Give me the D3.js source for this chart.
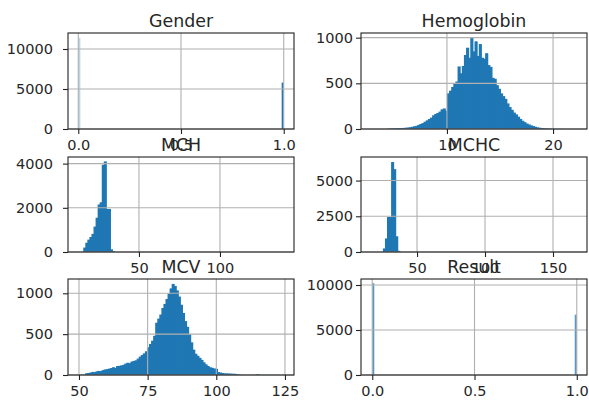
<!DOCTYPE html>
<html><head><meta charset="utf-8">
<script src="https://cdn.jsdelivr.net/npm/d3@7"></script>
<style>body{margin:0;background:#fff}svg{display:block}</style>
</head><body><svg id="c" width="589" height="405"></svg>
<script>
// ---------- data ----------
const panelTitles = ["Gender", "Hemoglobin", "MCH", "MCHC", "MCV", "Result"];

const genderBinStarts = [0, 0.99];
const genderBinWidth = 0.01;
const genderCounts = [11400, 5800];

const hgbBinStart = 4.4, hgbBinWidth = 0.2;
const hgbCounts = [5,6,7,8,9,10,11,12,14,16,
  20,24,30,35,45,55,65,80,95,110,
  125,150,165,175,190,215,225,200,390,420,
  460,500,520,685,610,690,810,890,780,1000,
  850,960,800,930,780,770,830,700,680,560,
  550,480,440,390,360,330,280,240,210,180,
  160,135,110,90,75,60,50,40,32,25,
  18,14,10,8,6,5,3,2,2,1,1,1,1];

const mchBinStart = 15.6, mchBinWidth = 1.27;
const mchCounts = [200,420,560,680,820,1150,1550,2150,2250,3950,4100,1950,1950,120,40];

const mchcBinStart = 24.9, mchcBinWidth = 1.51;
const mchcCounts = [250,950,2450,2450,6300,5800,1100,80];

const mcvBinStart = 50, mcvBinWidth = 0.75;
const mcvCounts = [2,3,5,22,25,30,38,35,45,50,
  48,60,68,72,78,85,95,88,110,112,
  118,125,140,150,145,165,172,180,200,225,
  245,265,290,340,380,420,480,640,690,740,
  820,870,930,995,1060,1115,1090,1035,960,860,
  760,660,590,500,400,310,260,235,210,185,
  155,130,110,95,88,80,75,35,30,25,
  20,20,18,17,15,15,12,3,2,1,
  1,0,1,0,2,1,10,2,0,1,
  0,0,1,0,0,0,0,0,0,2];

const resultBinStarts = [0, 0.99];
const resultBinWidth = 0.01;
const resultCounts = [10200, 6700];

const genderXTicks = [0, 0.5, 1], genderYTicks = [0, 5000, 10000];
const hgbXTicks = [10, 20], hgbYTicks = [0, 500, 1000];
const mchXTicks = [50, 100], mchYTicks = [0, 2000, 4000];
const mchcXTicks = [50, 100, 150], mchcYTicks = [0, 2500, 5000];
const mcvXTicks = [50, 75, 100, 125], mcvYTicks = [0, 500, 1000];
const resultXTicks = [0, 0.5, 1], resultYTicks = [0, 5000, 10000];

// ---------- build bins ----------
function regularBins(start, width, counts) {
  return counts.map((c, i) => ({x0: start + i * width, x1: start + (i + 1) * width, n: c}));
}
function listedBins(starts, width, counts) {
  return counts.map((c, i) => ({x0: starts[i], x1: starts[i] + width, n: c}));
}

const L = {x: 68, w: 226}, R = {x: 361, w: 226};
const rows = [{y: 33, h: 96}, {y: 157, h: 95}, {y: 279, h: 96}];

const panels = [
  {title: panelTitles[0], col: L, row: rows[0], bins: listedBins(genderBinStarts, genderBinWidth, genderCounts),
   xd: [-0.05, 1.05], yd: [0, 12000], xt: genderXTicks, yt: genderYTicks, xf: d3.format(".1f"), fade: [0.3, 1]},
  {title: panelTitles[1], col: R, row: rows[0], bins: regularBins(hgbBinStart, hgbBinWidth, hgbCounts),
   xd: [1.9, 23.2], yd: [0, 1051], xt: hgbXTicks, yt: hgbYTicks, xf: d3.format("d"), seam: true},
  {title: panelTitles[2], col: L, row: rows[1], bins: regularBins(mchBinStart, mchBinWidth, mchCounts),
   xd: [6.2, 145.7], yd: [0, 4300], xt: mchXTicks, yt: mchYTicks, xf: d3.format("d"), seam: true},
  {title: panelTitles[3], col: R, row: rows[1], bins: regularBins(mchcBinStart, mchcBinWidth, mchcCounts),
   xd: [8.8, 175], yd: [0, 6650], xt: mchcXTicks, yt: mchcYTicks, xf: d3.format("d"), seam: true},
  {title: panelTitles[4], col: L, row: rows[2], bins: regularBins(mcvBinStart, mcvBinWidth, mcvCounts),
   xd: [46, 128.3], yd: [0, 1175], xt: mcvXTicks, yt: mcvYTicks, xf: d3.format("d"), seam: true},
  {title: panelTitles[5], col: R, row: rows[2], bins: listedBins(resultBinStarts, resultBinWidth, resultCounts),
   xd: [-0.055, 1.05], yd: [0, 10667], xt: resultXTicks, yt: resultYTicks, xf: d3.format(".1f"), fade: [0.75, 0.75]},
];

const svg = d3.select("#c");
const FONT = "DejaVu Sans, sans-serif";
const BLUE = "#1f77b4", GRID = "#b0b0b0", INK = "#262626";

panels.forEach((p, pi) => {
  const left = p.col.x, top = p.row.y, W = p.col.w, H = p.row.h;
  const x = d3.scaleLinear().domain(p.xd).range([left, left + W]);
  const y = d3.scaleLinear().domain(p.yd).range([top + H, top]);
  const g = svg.append("g");

  // bars (each bar overlaps its neighbour by 1px so no anti-alias seams show)
  g.selectAll("rect.bar").data(p.bins.filter(b => b.n > 0)).join("rect")
    .attr("x", d => x(d.x0))
    .attr("width", d => Math.max(0.8, x(d.x1) - x(d.x0) + (p.seam ? 1 : 0)))
    .attr("y", d => y(d.n)).attr("height", d => y(0) - y(d.n))
    .attr("fill", BLUE)
    .attr("opacity", (d, i) => p.fade ? p.fade[i] : 1);

  // grid (drawn above bars, like matplotlib default)
  g.selectAll("line.gx").data(p.xt).join("line")
    .attr("x1", d => x(d)).attr("x2", d => x(d)).attr("y1", top).attr("y2", top + H)
    .attr("stroke", GRID).attr("stroke-width", 1.1);
  g.selectAll("line.gy").data(p.yt).join("line")
    .attr("x1", left).attr("x2", left + W).attr("y1", d => y(d)).attr("y2", d => y(d))
    .attr("stroke", GRID).attr("stroke-width", 1.1);

  // axes
  const xa = g.append("g").attr("transform", `translate(0,${top + H})`)
    .call(d3.axisBottom(x).tickValues(p.xt).tickFormat(p.xf).tickSize(5).tickPadding(6).tickSizeOuter(0));
  const ya = g.append("g").attr("transform", `translate(${left},0)`)
    .call(d3.axisLeft(y).tickValues(p.yt).tickFormat(d3.format("d")).tickSize(5)
      .tickPadding(p.col === L ? 10 : 3).tickSizeOuter(0));
  [xa, ya].forEach(a => {
    a.select(".domain").remove();
    a.selectAll(".tick line").attr("stroke", "#222").attr("stroke-width", 1.1);
    a.selectAll(".tick text").attr("fill", INK).style("font-family", FONT).style("font-size", "14.5px");
  });

  // spines
  g.append("rect").attr("x", left).attr("y", top).attr("width", W).attr("height", H)
    .attr("fill", "none").attr("stroke", "#222").attr("stroke-width", 1.1);

  // title
  g.append("text").attr("x", left + W / 2).attr("y", top - 6.5).attr("text-anchor", "middle")
    .attr("fill", INK).style("font-family", FONT).style("font-size", "17.4px").text(p.title);
});
</script>
</body></html>
